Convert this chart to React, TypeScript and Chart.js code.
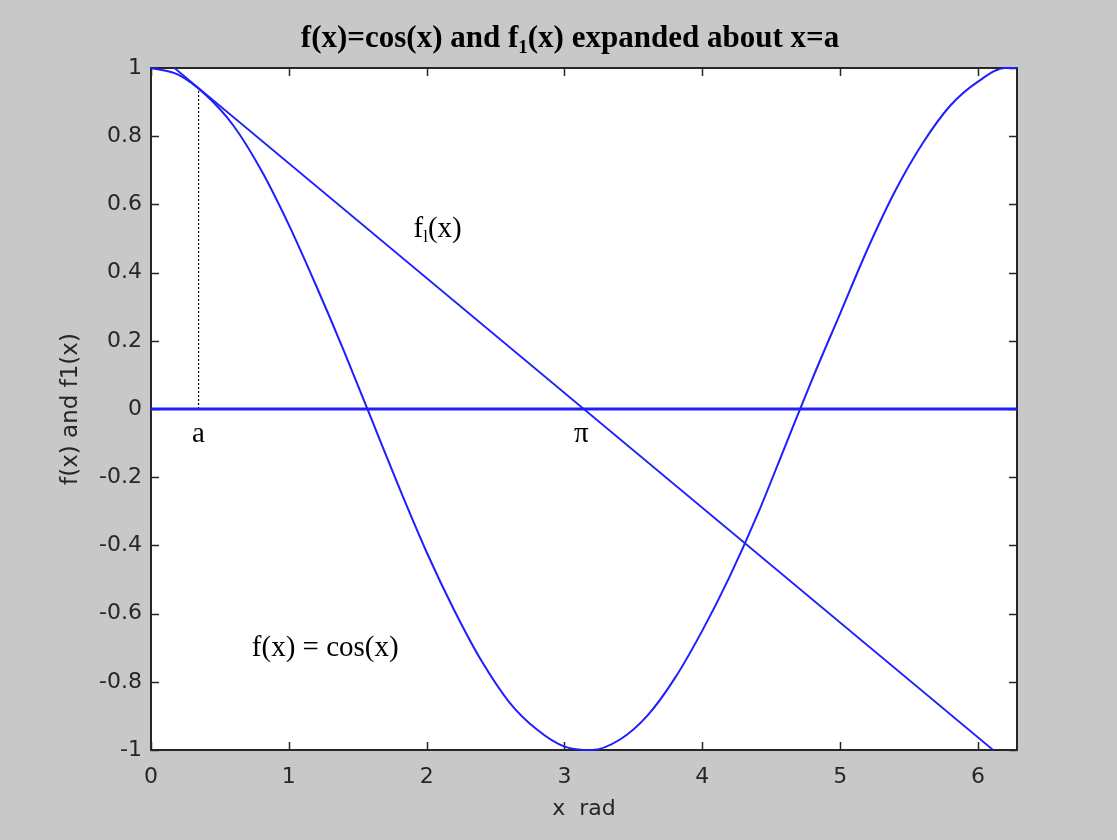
import { useEffect, useRef } from "react";
import { Chart, registerables } from "chart.js";

Chart.register(...registerables);

// f(x) = cos(x)
const cosX = [0, 0.2, 0.4, 0.6, 0.8, 1.0, 1.2, 1.4, 1.6, 1.8, 2.0, 2.2, 2.4, 2.6, 2.8, 3.0, 3.2, 3.4, 3.6, 3.8, 4.0, 4.2, 4.4, 4.6, 4.8, 5.0, 5.2, 5.4, 5.6, 5.8, 6.0, 6.2, 6.2832];
const cosY = [1, 0.98, 0.92, 0.83, 0.7, 0.54, 0.36, 0.17, -0.03, -0.23, -0.42, -0.59, -0.74, -0.86, -0.94, -0.99, -1.0, -0.97, -0.9, -0.79, -0.65, -0.49, -0.31, -0.11, 0.09, 0.28, 0.47, 0.64, 0.78, 0.89, 0.96, 1.0, 1];

// f1(x), the first-order expansion about x = a
const tangentX = [0.17, 6.11];
const tangentY = [1, -1];

// horizontal zero line
const zeroX = [0, 6.2832];
const zeroY = [0, 0];

// dotted marker at x = a
const markerX = [0.345, 0.345];
const markerY = [0, 0.944];

const xTickValues = [0, 1, 2, 3, 4, 5, 6];
const xTickLabels = ["0", "1", "2", "3", "4", "5", "6"];
const yTickValues = [-1, -0.8, -0.6, -0.4, -0.2, 0, 0.2, 0.4, 0.6, 0.8, 1];
const yTickLabels = ["-1", "-0.8", "-0.6", "-0.4", "-0.2", "0", "0.2", "0.4", "0.6", "0.8", "1"];

const xMin = 0;
const xMax = 6.2832;
const yMin = -1;
const yMax = 1;

const BLUE = "rgb(30,30,255)";
const AXIS = "#262626";
const SERIF = '"Liberation Serif", "Times New Roman", serif';
const SANS = '"DejaVu Sans", sans-serif';

const toPoints = (xs: number[], ys: number[]) => xs.map((x, i) => ({ x, y: ys[i] }));

type Part = { t: string; sub?: boolean };

function drawParts(ctx: CanvasRenderingContext2D, parts: Part[], cx: number, baseline: number, size: number, bold: boolean) {
  const w = (p: Part) => {
    ctx.font = `${bold ? "bold " : ""}${p.sub ? Math.round(size * 0.6) : size}px ${SERIF}`;
    return ctx.measureText(p.t).width;
  };
  const total = parts.reduce((s, p) => s + w(p), 0);
  let x = cx - total / 2;
  ctx.textAlign = "left";
  ctx.textBaseline = "alphabetic";
  for (const p of parts) {
    const pw = w(p);
    ctx.fillText(p.t, x, p.sub ? baseline + size * 0.18 : baseline);
    x += pw;
  }
}

const decorPlugin = {
  id: "decor",
  beforeDatasetsDraw(chart: any) {
    const { ctx, chartArea: a, scales } = chart;
    ctx.save();
    ctx.fillStyle = "#ffffff";
    ctx.fillRect(a.left, a.top, a.right - a.left, a.bottom - a.top);
    ctx.strokeStyle = AXIS;
    ctx.lineWidth = 1.5;
    const tl = 8;
    ctx.beginPath();
    for (const v of xTickValues) {
      const px = Math.round(scales.x.getPixelForValue(v)) + 0.5;
      ctx.moveTo(px, a.bottom);
      ctx.lineTo(px, a.bottom - tl);
      ctx.moveTo(px, a.top);
      ctx.lineTo(px, a.top + tl);
    }
    for (const v of yTickValues) {
      const py = Math.round(scales.y.getPixelForValue(v)) + 0.5;
      ctx.moveTo(a.left, py);
      ctx.lineTo(a.left + tl, py);
      ctx.moveTo(a.right, py);
      ctx.lineTo(a.right - tl, py);
    }
    ctx.stroke();
    ctx.lineWidth = 2;
    ctx.strokeRect(a.left, a.top, a.right - a.left, a.bottom - a.top);
    ctx.restore();
  },
  afterDatasetsDraw(chart: any) {
    const { ctx, scales } = chart;
    const X = (v: number) => scales.x.getPixelForValue(v);
    const Y = (v: number) => scales.y.getPixelForValue(v);
    ctx.save();
    ctx.fillStyle = "#000000";
    // title
    drawParts(
      ctx,
      [{ t: "f(x)=cos(x) and f" }, { t: "1", sub: true }, { t: "(x) expanded about x=a" }],
      570,
      47,
      31,
      true
    );
    // annotations
    drawParts(ctx, [{ t: "a" }], X(0.345), Y(-0.097), 29, false);
    drawParts(ctx, [{ t: "π" }], X(3.123), Y(-0.097), 29, false);
    drawParts(ctx, [{ t: "f" }, { t: "l", sub: true }, { t: "(x)" }], X(2.08), Y(0.504), 29, false);
    drawParts(ctx, [{ t: "f(x) = cos(x)" }], X(1.264), Y(-0.724), 29, false);
    ctx.restore();
  },
};

export default function App() {
  const ref = useRef<HTMLCanvasElement | null>(null);

  useEffect(() => {
    document.body.style.margin = "0";
    document.body.style.background = "#c8c8c8";
    const canvas = ref.current;
    if (!canvas) return;
    const chart = new Chart(canvas, {
      type: "line",
      data: {
        datasets: [
          {
            label: "zero",
            data: toPoints(zeroX, zeroY),
            borderColor: BLUE,
            borderWidth: 3,
            pointRadius: 0,
            clip: 4,
          },
          {
            label: "f1(x)",
            data: toPoints(tangentX, tangentY),
            borderColor: BLUE,
            borderWidth: 1.7,
            pointRadius: 0,
            clip: 4,
          },
          {
            label: "cos(x)",
            data: toPoints(cosX, cosY),
            borderColor: BLUE,
            borderWidth: 2,
            pointRadius: 0,
            cubicInterpolationMode: "monotone",
            clip: 4,
          },
          {
            label: "a",
            data: toPoints(markerX, markerY),
            borderColor: "#000000",
            borderWidth: 1.2,
            borderDash: [2, 2],
            pointRadius: 0,
          },
        ],
      },
      options: {
        responsive: false,
        animation: false,
        devicePixelRatio: 1,
        parsing: false as any,
        layout: { padding: { top: 68, right: 100, left: 0, bottom: 0 } },
        plugins: {
          legend: { display: false },
          tooltip: { enabled: false },
          title: { display: false },
        },
        scales: {
          x: {
            type: "linear",
            min: xMin,
            max: xMax,
            grid: { display: false, drawTicks: false },
            border: { display: false },
            afterBuildTicks: (s: any) => {
              s.ticks = xTickValues.map((v) => ({ value: v }));
            },
            afterFit: (s: any) => {
              s.height = 90;
            },
            ticks: {
              padding: 14,
              color: "#262626",
              font: { family: SANS, size: 22 },
              maxRotation: 0,
              autoSkip: false,
              callback: (v: any) => {
                const i = xTickValues.indexOf(Number(v));
                return i >= 0 ? xTickLabels[i] : "";
              },
            },
            title: {
              display: true,
              text: "x  rad",
              color: "#262626",
              font: { family: SANS, size: 22 },
              padding: { top: 0, bottom: 18 },
            },
          },
          y: {
            type: "linear",
            min: yMin,
            max: yMax,
            grid: { display: false, drawTicks: false },
            border: { display: false },
            afterBuildTicks: (s: any) => {
              s.ticks = yTickValues.map((v) => ({ value: v }));
            },
            afterFit: (s: any) => {
              s.width = 151;
            },
            ticks: {
              padding: 9,
              color: "#262626",
              font: { family: SANS, size: 22 },
              autoSkip: false,
              callback: (v: any) => {
                const i = yTickValues.findIndex((t) => Math.abs(t - Number(v)) < 1e-9);
                return i >= 0 ? yTickLabels[i] : "";
              },
            },
            title: {
              display: true,
              text: "f(x) and f1(x)",
              color: "#262626",
              font: { family: SANS, size: 23 },
              padding: { top: 57, bottom: 0 },
            },
          },
        },
      },
      plugins: [decorPlugin],
    });
    return () => chart.destroy();
  }, []);

  return (
    <div style={{ position: "absolute", left: 0, top: 0, width: 1117, height: 840, background: "#c8c8c8" }}>
      <canvas ref={ref} width={1117} height={840} style={{ display: "block", width: 1117, height: 840 }} />
    </div>
  );
}
